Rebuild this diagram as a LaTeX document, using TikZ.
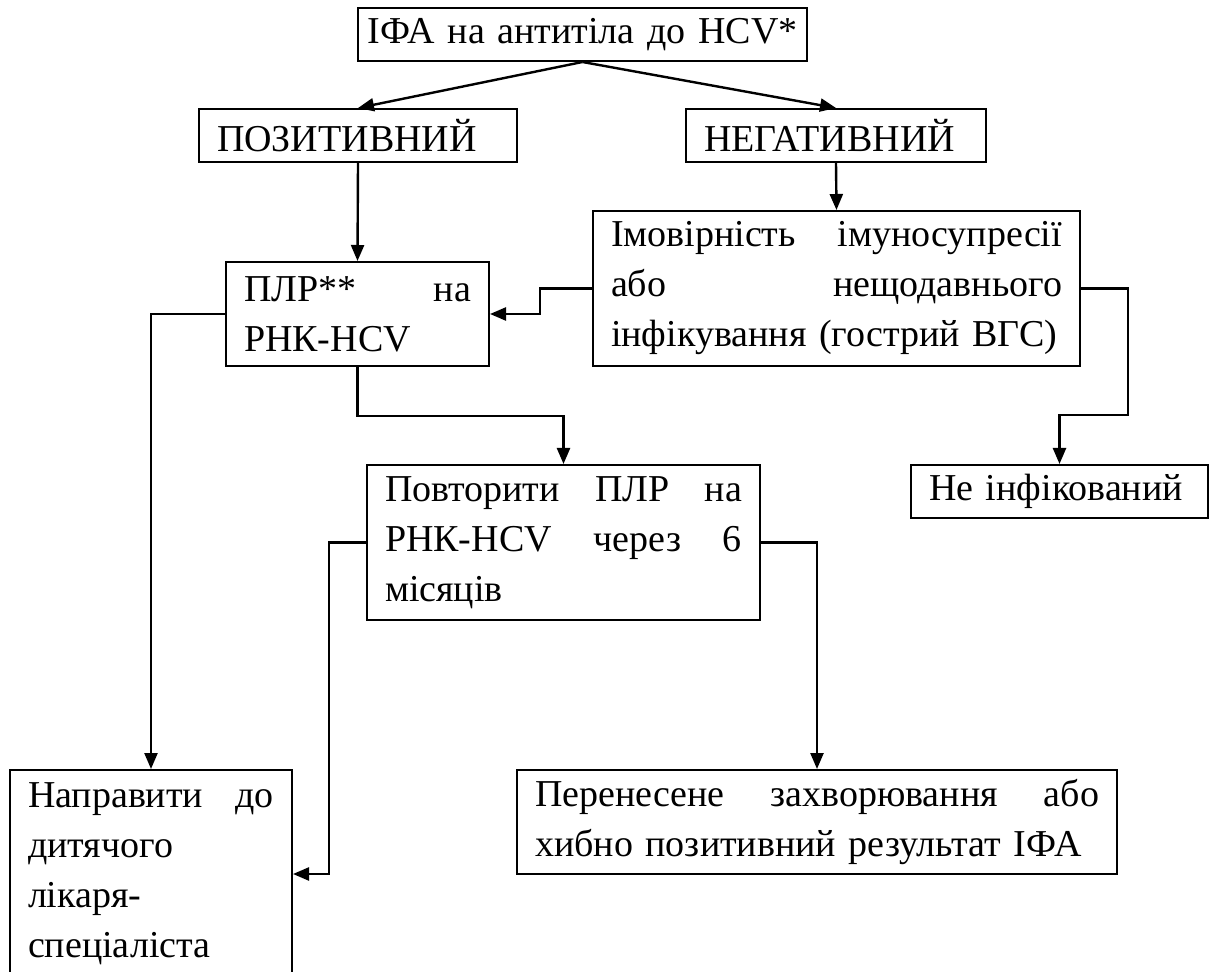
\documentclass[tikz,border=0pt]{standalone}
\usepackage{fontspec}
\setmainfont{Liberation Serif}
\usetikzlibrary{arrows.meta}

\begin{document}
\begin{tikzpicture}[x = 0.5pt, y = -0.5pt]

\tikzset{
step box/.style = {rectangle, draw, line width = 1pt, inner xsep = 9pt, 
	inner ysep = 0pt, align = left, font = \fontsize{19}{25}\selectfont},
link/.style = {-{Triangle[length = 8pt, width = 6.5pt]}, line width = 1.2pt},
}

\useasboundingbox (0, 0) rectangle (1210, 972);
\clip (0, 0) rectangle (1210, 972);

%% Boxes
% Test and results
\node at (582.5, 34.5) [step box, text width = 220pt, inner xsep = 2.25pt, align = center, 
	minimum height = 26.5pt] (ifa) {ІФА на антитіла до HCV*};
\node at (358, 135.5) [step box, text width = 141pt, minimum height = 26.5pt] (pos) 
	{ПОЗИТИВНИЙ};
\node at (836, 135.5) [step box, text width = 132pt, minimum height = 26.5pt] (neg) 
	{НЕГАТИВНИЙ};

% Second level
\node at (357.5, 314) [step box, text width = 113.5pt, minimum height = 52pt] (plr) 
	{ПЛР**\hfill на\\РНК-HCV};
\node at (836.5, 288.5) [step box, text width = 225.5pt, minimum height = 77.5pt] (imov) 
	{Імовірність\hfill імуносупресії\\або\hfill нещодавнього\\інфікування (гострий ВГС)};

% Third level
\node at (563.5, 542.5) [step box, text width = 178.5pt, minimum height = 77.5pt] (povt) 
	{Повторити\hfill ПЛР\hfill на\\РНК-HCV\hfill через\hfill 6\\місяців};
\node at (1059.5, 491.5) [step box, text width = 130.5pt, minimum height = 26.5pt] (neinf) 
	{Не інфікований};

% Outcomes
\node at (151, 874) [step box, text width = 123pt, minimum height = 104pt] (napr) 
	{Направити\hfill до\\дитячого\\лікаря-\\спеціаліста};
\node at (817, 822) [step box, text width = 282pt, minimum height = 52pt] (pere) 
	{Перенесене\hfill захворювання\hfill або\\хибно позитивний результат ІФА};

%% Links
\draw [link] (ifa.south) -- (pos.north);
\draw [link] (ifa.south) -- (neg.north);
\draw [link] (pos.south) -- (plr.north);
\draw [link] (neg.south) -- (imov.north);
\draw [link] (imov.west) -- ++(-52, 0) |- (plr.east);
\draw [link] (imov.east) -- ++(47, 0) -- ++(0, 126.5) -| (neinf.north);
\draw [link] (plr.west) -| (napr.north);
\draw [link] (plr.south) -- ++(0, 49) -| (povt.north);
\draw [link] (povt.west) -- ++(-37, 0) |- (napr.east);
\draw [link] (povt.east) -| (pere.north);

\end{tikzpicture}
\end{document}
